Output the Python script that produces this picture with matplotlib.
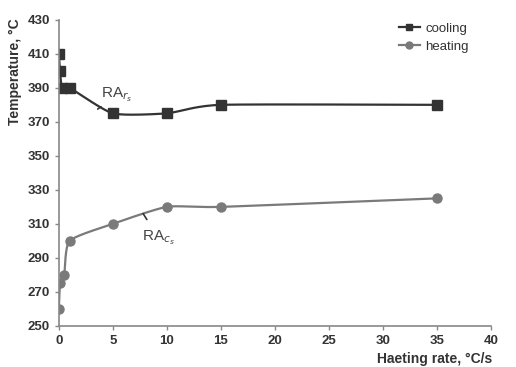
import numpy as np
import matplotlib.pyplot as plt

plt.rcParams['font.family'] = ['Liberation Sans', 'DejaVu Sans']

# data
rate_cool = [0, 0.1, 0.3, 1, 5, 10, 15, 35]
temp_cool = [410, 400, 390, 390, 375, 375, 380, 380]
rate_heat = [0, 0.1, 0.5, 1, 5, 10, 15, 35]
temp_heat = [260, 275, 280, 300, 310, 320, 320, 325]
x_ticks = [0, 5, 10, 15, 20, 25, 30, 35, 40]
y_ticks = [250, 270, 290, 310, 330, 350, 370, 390, 410, 430]


def smooth(x, y, n=30):
    # catmull-rom style curve through the points, like excel smoothed lines
    x = np.asarray(x, float)
    y = np.asarray(y, float)
    px = np.concatenate([[x[0]], x, [x[-1]]])
    py = np.concatenate([[y[0]], y, [y[-1]]])
    xs, ys = [], []
    for i in range(1, len(px) - 2):
        t = np.linspace(0, 1, n)
        for p, out in ((px, xs), (py, ys)):
            p0, p1, p2, p3 = p[i - 1], p[i], p[i + 1], p[i + 2]
            m1 = (p2 - p0) / 2 * 0.6
            m2 = (p3 - p1) / 2 * 0.6
            h00 = 2 * t**3 - 3 * t**2 + 1
            h10 = t**3 - 2 * t**2 + t
            h01 = -2 * t**3 + 3 * t**2
            h11 = t**3 - t**2
            out.extend(h00 * p1 + h10 * m1 + h01 * p2 + h11 * m2)
    return xs, ys


cool_c = '#333333'
heat_c = '#7a7a7a'

fig = plt.figure(figsize=(5.16, 3.67), dpi=100)
ax = fig.add_axes([0.114, 0.112, 0.838, 0.834])

sx, sy = smooth(rate_cool, temp_cool)
ax.plot(sx, sy, color=cool_c, lw=1.6)
ax.plot(rate_cool, temp_cool, ls='none', marker='s', ms=6.5, color=cool_c)
sx, sy = smooth(rate_heat, temp_heat)
ax.plot(sx, sy, color=heat_c, lw=1.6)
ax.plot(rate_heat, temp_heat, ls='none', marker='o', ms=6.5, color=heat_c)

# legend proxies
ax.plot([], [], color=cool_c, marker='s', ms=5, lw=1.6, label='cooling')
ax.plot([], [], color=heat_c, marker='o', ms=5, lw=1.6, label='heating')
h, l = ax.get_legend_handles_labels()
ax.legend(h, l, loc='upper right', bbox_to_anchor=(0.975, 1.03), frameon=False,
          fontsize=9.5, handlelength=1.6, handletextpad=0.4, labelspacing=0.45,
          labelcolor='#333333')

# curve labels
ax.annotate(r'RA$_{r_s}$', xy=(3.6, 377.5), xytext=(5.4, 386), fontsize=11,
            color='#444444', ha='center', va='center',
            arrowprops=dict(arrowstyle='-', color='#333333', lw=1.2, shrinkA=5, shrinkB=0))
ax.annotate(r'RA$_{c_s}$', xy=(7.8, 316), xytext=(9.2, 302), fontsize=11,
            color='#444444', ha='center', va='center',
            arrowprops=dict(arrowstyle='-', color='#333333', lw=1.2, shrinkA=5, shrinkB=0))

ax.set_xlim(0, 40)
ax.set_ylim(250, 430)
ax.set_xticks(x_ticks)
ax.set_yticks(y_ticks)
for s in ['top', 'right']:
    ax.spines[s].set_visible(False)
for s in ['left', 'bottom']:
    ax.spines[s].set_color('#888888')
    ax.spines[s].set_linewidth(1.2)
ax.tick_params(colors='#888888', length=3, width=1, labelsize=9.5, labelcolor='#333333')
for lab in ax.get_xticklabels() + ax.get_yticklabels():
    lab.set_fontweight('bold')

ax.set_ylabel('Temperature, °C', fontsize=10, fontweight='bold', color='#333333')
ax.yaxis.set_label_coords(-0.085, 0.83)
ax.set_xlabel('Haeting rate, °C/s', fontsize=10, fontweight='bold', color='#333333')
ax.xaxis.set_label_coords(0.87, -0.085)

fig.savefig('out.png', dpi=100)
